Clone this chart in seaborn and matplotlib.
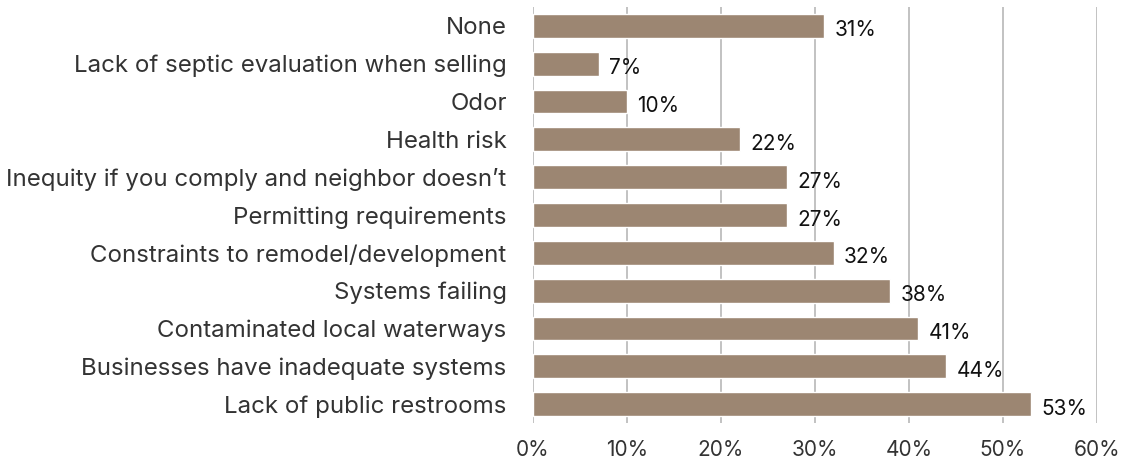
import pandas as pd
import seaborn as sns
import matplotlib.pyplot as plt

# survey answers, top to bottom as in the chart
issues = [
    "None",
    "Lack of septic evaluation when selling",
    "Odor",
    "Health risk",
    "Inequity if you comply and neighbor doesn\u2019t",
    "Permitting requirements",
    "Constraints to remodel/development",
    "Systems failing",
    "Contaminated local waterways",
    "Businesses have inadequate systems",
    "Lack of public restrooms",
]
pct = [31, 7, 10, 22, 27, 27, 32, 38, 41, 44, 53]

df = pd.DataFrame({"issue": issues, "pct": pct})

sns.set_style("white")
plt.rcParams["font.family"] = ["Inter", "DejaVu Sans"]

fig = plt.figure(figsize=(11.26, 4.66), dpi=100)
ax = fig.add_axes([0.4734, 0.092, 0.5006, 0.893])

sns.barplot(data=df, x="pct", y="issue", color="#9c8672", saturation=1,
            width=0.63, ax=ax, zorder=3)

# value labels just right of each bar
for i, v in enumerate(pct):
    ax.text(v + 1.1, i + 0.12, f"{v}%", va="center", ha="left",
            fontsize=15, color="#111111", zorder=4)

ax.set_xlim(0, 60)
ax.set_xticks(range(0, 61, 10))
ax.set_xticklabels([f"{t}%" for t in range(0, 61, 10)])
ax.xaxis.grid(True, color="#bdbdbd", linewidth=1.3)
ax.set_axisbelow(True)
ax.set_xlabel("")
ax.set_ylabel("")
for s in ax.spines.values():
    s.set_visible(False)
ax.tick_params(axis="x", labelsize=15, labelcolor="#333333", length=0, pad=12)
ax.tick_params(axis="y", labelsize=17.3, labelcolor="#333333", length=0, pad=19)

fig.savefig("out.png", dpi=100)
